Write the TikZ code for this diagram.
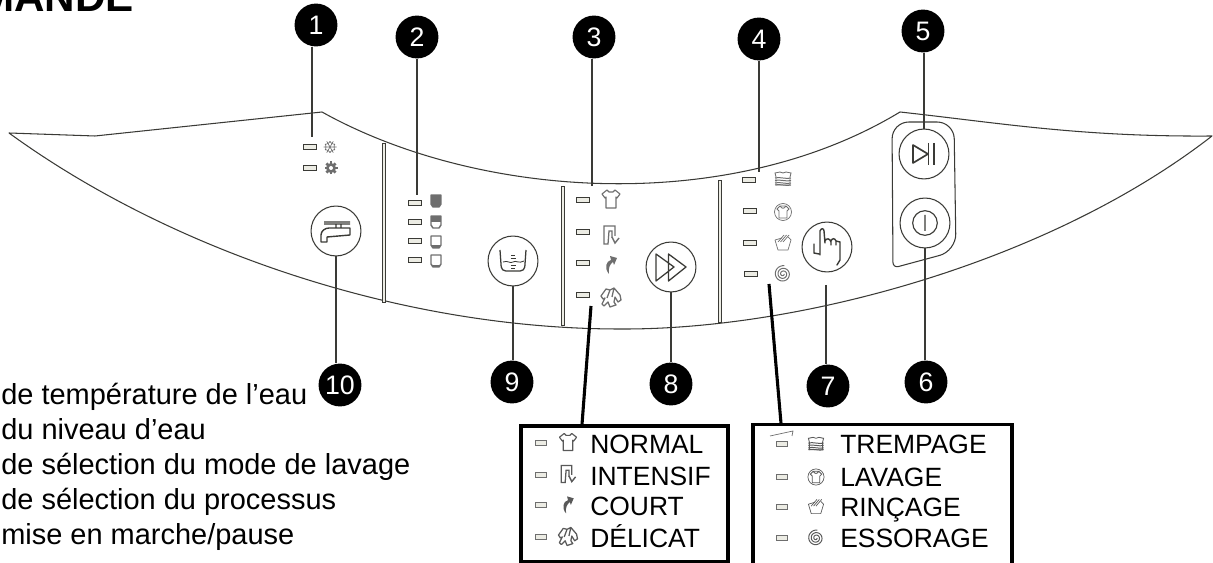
\documentclass[tikz,border=0pt]{standalone}
\usepackage{fontspec}
\setmainfont{Liberation Sans}
\usetikzlibrary{positioning,calc}
\definecolor{icongray}{HTML}{6E6E6E}
\definecolor{inkgray}{HTML}{3A3A36}
\definecolor{stripfill}{HTML}{ECECE4}
\tikzset{
 pics/tee/.style={code={\draw[line width=.8pt,line join=round] (-9,-5)--(-4,-9)--(-2,-7)--(2,-7)--(4,-9)--(9,-5)--(6,-1)--(5,-2)--(5,9)--(-5,9)--(-5,-2)--(-6,-1)--cycle;}},
 pics/trousers/.style={code={\draw[line width=.9pt] (4,1)--(4,-9)--(-7,-9)--(-7,9)--(-3,9)--(-2,-4)--(1,-4)--(1,3);\draw[line width=1pt] (1,2)--(4,8)--(8,3);}},
 pics/curl/.style={code={\fill (-2,10) .. controls (-7,4) and (-5,-3) .. (0,-4)--(-1,-8)--(6,-6)--(3,1)--(2,-2) .. controls (-1,0) and (-3,4) .. (-2,10)--cycle;}},
 pics/twist/.style={code={\draw[line width=.9pt,line join=round] (-10,-1)--(-5,-8)--(-1,-7)--(3,-9)--(9,-2)--(10,3)--(7,5)--(4,0)--(3,5)--(5,8)--(-1,10)--(-3,5)--(-7,9)--(-9,7)--(-6,1)--(-8,2)--cycle (-1,-7)--(-4,1) (3,-9)--(1,0);}},
 pics/cup/.style 2 args={code={\begin{scope}
   \clip (-5,-6)--(5,-6)--(5,3)--(3,6)--(-3,6)--(-5,3)--cycle;
   \fill (-5,#1) rectangle (5,#2);
  \end{scope}
  \draw[line width=1pt,line join=round] (-5,-6)--(5,-6)--(5,3)--(3,6)--(-3,6)--(-5,3)--cycle;}},
 pics/snow/.style={code={\foreach \a in {0,60,...,300}{\draw[line width=.45pt] (0,0)--(\a:6.5) (\a:4)--(\a+35:5.6) (\a:4)--(\a-35:5.6);}}},
 pics/gear/.style={code={\foreach \a in {0,45,...,135}{\draw[line width=2pt] (\a:6.5)--(\a+180:6.5);}
  \fill (0,0) circle (5);\fill[white] (0,0) circle (2);}},
 pics/soak/.style={code={\draw[line width=.6pt] (-8,-6)--(-3,-7)--(0,-6)--(3,-7)--(8,-6)--(7,-2)--(7,6)--(-7,6)--(-7,-2)--cycle;
  \foreach \y in {-1,1.5,4,6}{\draw[line width=.7pt] (-8,\y) .. controls (-4,\y-1.5) and (4,\y+1.5) .. (8,\y);}}},
 pics/wash/.style={code={\draw[line width=.5pt] (0,0) circle (8.5);\draw[line width=.6pt] (-6,-3)--(-3,-6)--(3,-6)--(6,-3)--(4,-1)--(4,6)--(-4,6)--(-4,-1)--cycle (-3,-6) .. controls (-1,-3) and (1,-3) .. (3,-6);}},
 pics/rinse/.style={code={\draw[line width=.5pt,line join=round] (-8,-3)--(-1,-5) (5,-6)--(8,-3)--(5,7)--(-5,7)--(-8,-3);\foreach \a in {-4,-1.5,1}{\draw[line width=.5pt] (\a-1,-1)--(\a+5,-8);}}},
 pics/spin/.style={code={\draw[line width=.7pt,samples=70,domain=0:1000,smooth] plot (\x:{1+\x/135});}},
 pics/tap/.style={code={\draw[line width=1pt,line join=round] (14,-3)--(-7,-3) .. controls (-11,-3) and (-15,0) .. (-15,4)--(-15,11)--(-9,11)--(-9,6)--(14,4)--cycle (-12,-9)--(14,-9) (-12,-7)--(14,-7) (0,-7)--(0,-3) (5,-7)--(5,-3);}},
 pics/beaker/.style={code={\draw[line width=.9pt,rounded corners=3pt] (-13,-11)--(-11.5,10)--(11.5,10)--(13,-11);
  \draw[line width=.6pt] (-10,1) .. controls (-5,-1) and (-3,3) .. (0,1) .. controls (3,-1) and (6,3) .. (11,0);
  \foreach \y/\w in {-6/2,-3/2.5,4/2.5,7/2}{\draw[line width=.7pt] (-\w,\y)--(\w,\y);}}},
 pics/skipping/.style={code={\draw[line width=.9pt,line join=round] (-15,-13)--(-15,14)--(3,0)--cycle (-2.5,-13)--(-2.5,14)--(15,0)--cycle;}},
 pics/finger/.style={code={\draw[line width=1pt,line cap=round] (-13,-3)--(-13,6)--(-8,7) (-7,8)--(-7,-16) .. controls (-6,-19) and (-3,-19) .. (-3,-16)--(-2,-4)
  (-2,-6) .. controls (-1,-9) and (3,-9) .. (4,-5)--(4,-2) (4,-6) .. controls (5,-9) and (8,-9) .. (9,-6)--(9,-2) (9,-6)--(13,-5)--(13,13)--(10,18);}},
 pics/playpause/.style={code={\draw[line width=1.2pt,line join=round] (-11,-9)--(-11,9)--(4,0)--cycle;\draw[line width=1pt] (4.5,-11)--(4.5,11) (10,-11)--(10,11);}},
 pics/onoff/.style={code={\draw[line width=.8pt] (0,0) circle (12.3) (0,-8)--(0,8);}},
 knob/.style={circle,draw=inkgray,line width=.75pt,minimum size=35.5pt,inner sep=0pt},
 badge/.style={circle,fill=black,text=white,minimum size=30.5pt,inner sep=0pt,font=\fontsize{19}{20}\selectfont},
 led/.style={draw=inkgray,fill=stripfill,line width=.8pt,minimum width=9pt,minimum height=3.6pt,inner sep=0pt},
 tinyled/.style={draw=icongray,fill=stripfill,line width=.8pt,minimum width=8pt,minimum height=3.2pt,inner sep=0pt},
 strip/.style={draw=inkgray,fill=stripfill,line width=.6pt},
 callout/.style={draw=inkgray,line width=.8pt},
 leader/.style={draw=black,line width=2.2pt},
 legendbox/.style={draw=black,line width=2.2pt,inner sep=0pt},
 panelicon/.style={color=icongray},
 legendicon/.style={color=black!65,scale=.95},
 caption/.style={anchor=base west,inner sep=0pt,font=\fontsize{18.8}{20}\selectfont},
 listline/.style={anchor=base west,inner sep=0pt,font=\fontsize{20.6}{22}\selectfont}
}
\begin{document}
\begin{tikzpicture}[x=0.025cm,y=-0.025cm]
 \useasboundingbox (0,0) rectangle (1213,563);
 \clip (0,0) rectangle (1213,563);
 % panel outline
 \draw[draw=inkgray,line width=.75pt,line join=round] (9,133)--(95,136)--(322,112) .. controls (480,200) and (730,215) .. (900,112)
  .. controls (1000,123) and (1080,137) .. (1212,136) .. controls (1050,262) and (800,330) .. (620,329) .. controls (400,329) and (170,250) .. (9,133)--cycle;
 \draw[draw=inkgray,line width=.75pt,rounded corners=12pt] (892,122)--(954,122)--(956,251) [rounded corners=4pt] --(893,268) [rounded corners=12pt] --cycle;
 \foreach \x/\top/\bot in {384/143/302,563/186/325,720/180/322}
  \draw[strip] (\x-1.6,\top) rectangle (\x+1.6,\bot);
 % lamps
 \foreach \n/\x/\y in {t1/310/147,t2/310/168,w1/415/203,w2/415/222,w3/415/241,w4/415/260,m1/583/200,m2/583/232,m3/583/263,m4/583/295,p1/749/180,p2/750/211,p3/750/243,p4/751/274}
  \node[led] (\n) at (\x,\y) {};
 \pic[panelicon] at (330,147) {snow};
 \pic[panelicon] at (331,168) {gear};
 \pic[panelicon] at (436,201) {cup={-6}{6}};
 \pic[panelicon] at (436,222) {cup={-6}{0}};
 \pic[panelicon] at (436,242) {cup={3}{6}};
 \pic[panelicon] at (436,261) {cup={4}{6}};
 \foreach \y/\ic in {199/tee,235/trousers,264/curl,297/twist}
  \pic[panelicon] at (611,\y) {\ic};
 \foreach \y/\ic in {179/soak,212/wash,243/rinse,274/spin}
  \pic[panelicon] at (783,\y) {\ic};
 % buttons
 \node[knob] (b10) at (336,231) {};
 \node[knob] (b9) at (513,261) {};
 \node[knob] (b8) at (671,267) {};
 \node[knob] (b7) at (827,247) {};
 \node[knob] (b5) at (924,154) {};
 \node[knob] (b6) at (925,223) {};
 \pic[color=inkgray] at (b10) {tap};
 \pic[color=inkgray] at (b9) {beaker};
 \pic[color=inkgray] at (b8) {skipping};
 \pic[color=inkgray] at (b7) {finger};
 \pic[color=inkgray] at (b5) {playpause};
 \pic[color=inkgray] at (b6) {onoff};
 % numbers
 \node[badge] (n1) at (316,25) {1};
 \node[badge] (n2) at (417,37) {2};
 \node[badge] (n3) at (594,37) {3};
 \node[badge] (n4) at (759,39) {4};
 \node[badge] (n5) at (923,31) {5};
 \node[badge] (n6) at (926,382) {6};
 \node[badge] (n7) at (828,386) {7};
 \node[badge] (n8) at (671,384) {8};
 \node[badge] (n9) at (512,382) {9};
 \node[badge] (n10) at (340,385) {10};
 \coordinate (tip1) at (312,137);
 \coordinate (tip2) at (417,195);
 \coordinate (tip3) at (592,186);
 \coordinate (tip4) at (759,172);
 \coordinate (tip7) at (826,285);
 \foreach \i in {1,2,3,4}
  \draw[callout] (tip\i |- n\i.south)--(tip\i);
 \draw[callout] (b5.north)--(b5.north |- n5.south);
 \draw[callout] (b6.south)--(b6.south |- n6.north);
 \draw[callout] (tip7)--(tip7 |- n7.north);
 \draw[callout] (b8.south)--(b8.south |- n8.north);
 \draw[callout] (b9.south)--(b9.south |- n9.north);
 \draw[callout] (b10.south)--(b10.south |- n10.north);
 % legend boxes
 \node[legendbox,minimum width=147.2pt,minimum height=96.7pt] (modebox) at (624.5,494) {};
 \node[legendbox,minimum width=184.2pt,minimum height=114pt] (procbox) at (882.5,505) {};
 \coordinate (modetip) at (591,306);
 \coordinate (proctip) at (769,284);
 \draw[leader] (modetip)--($(modebox.north)+(-42.5,0)$);
 \draw[leader] (proctip)--($(procbox.north)+(-101.5,0)$);
 \foreach \n/\y/\ic/\lab in {a/443/tee/NORMAL,b/475/trousers/INTENSIF,c/505/curl/COURT,d/537/twist/DÉLICAT}{
  \node[tinyled] (l\n) at (541,\y) {};
  \pic[legendicon] at (568,\y-1) {\ic};
  \node[caption] (t\n) at (590,\y+10.5) {\lab};
 }
 \foreach \n/\y/\ic/\lab in {e/444/soak/TREMPAGE,f/477/wash/LAVAGE,g/507/rinse/RINÇAGE,h/538/spin/ESSORAGE}{
  \node[tinyled] (l\n) at (782,\y) {};
  \pic[legendicon] at (816,\y) {\ic};
  \node[caption] (t\n) at (840,\y+10) {\lab};
 }
 \draw[draw=icongray,line width=.5pt] ($(le)+(-12,-8)$)--($(le)+(11,-13)$)--($(le)+(10,-8)$);
 % text on the left
 \foreach \n/\y/\lab in {1/405/de température de l’eau,2/440/du niveau d’eau,3/475/de sélection du mode de lavage,4/510/de sélection du processus,5/545/{mise en marche/pause}}
  \node[listline] (c\n) at (1,\y) {\lab};
 \node[anchor=base east,inner sep=0pt,font=\fontsize{30}{30}\bfseries\selectfont] (title) at (134,12) {MANDE};
\end{tikzpicture}
\end{document}
